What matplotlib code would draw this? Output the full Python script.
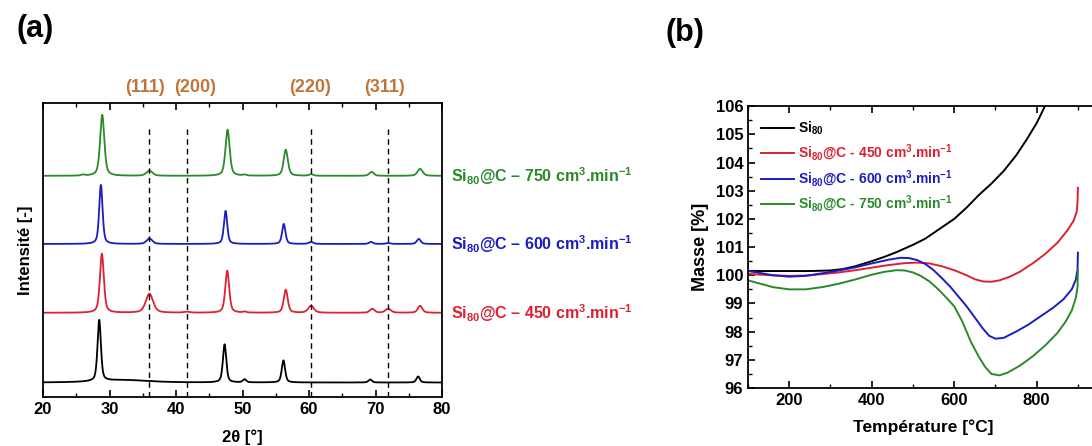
import numpy as np
import matplotlib
matplotlib.use("Agg")
import matplotlib.pyplot as plt
from matplotlib.ticker import MultipleLocator

plt.rcParams["font.family"] = ["Liberation Sans", "DejaVu Sans"]
plt.rcParams["font.weight"] = "bold"
plt.rcParams["axes.labelweight"] = "bold"
plt.rcParams["mathtext.fontset"] = "custom"
plt.rcParams["mathtext.rm"] = "Liberation Sans:bold"
plt.rcParams["mathtext.bf"] = "Liberation Sans:bold"
plt.rcParams["mathtext.it"] = "Liberation Sans:bold"

# -----------------------------
# (a) XRD data: peaks (position [deg], height [a.u.], fwhm [deg])
# -----------------------------
two_theta = np.linspace(20, 80, 3000)

xrd_offsets = {"Si80": 14.4, "450": 84.0, "600": 152.7, "750": 220.7}

peaks_si80 = [(28.45, 61, 0.6), (32.0, 2.5, 9.0), (47.3, 38, 0.6), (50.3, 3, 0.6),
              (56.15, 22, 0.6), (69.2, 3, 0.6), (76.4, 6, 0.6)]
peaks_450 = [(28.85, 59, 0.7), (36.0, 19, 1.3), (41.6, 1, 1.0), (47.7, 42, 0.7),
             (50.3, 1, 0.6), (56.5, 23, 0.7), (60.3, 7, 1.0), (69.5, 4, 0.8),
             (71.9, 4, 1.0), (76.7, 7, 0.8)]
peaks_600 = [(28.7, 59, 0.6), (36.0, 5.5, 1.0), (47.45, 33, 0.6), (56.2, 20, 0.6),
             (60.3, 2, 0.8), (69.3, 2, 0.7), (71.9, 1, 0.8), (76.5, 5, 0.7)]
peaks_750 = [(28.9, 61, 0.75), (26.0, 1, 0.6), (36.0, 5, 1.1), (47.75, 46, 0.75),
             (50.3, 1, 0.6), (56.5, 26, 0.75), (60.3, 1.5, 0.8), (69.4, 4, 0.8),
             (76.7, 7, 0.9)]

hkl_labels = ["(111)", "(200)", "(220)", "(311)"]
hkl_lines = [36.0, 41.7, 60.3, 71.9]
hkl_label_x = [35.3, 42.8, 60.2, 71.4]

# -----------------------------
# (b) TGA data
# -----------------------------
t_si80 = [100, 150, 200, 250, 300, 330, 360, 400, 430, 460, 500, 530, 560, 600, 630,
          660, 690, 720, 750, 775, 800, 820, 830]
m_si80 = [100.15, 100.15, 100.15, 100.15, 100.17, 100.22, 100.32, 100.5, 100.65, 100.82,
          101.08, 101.3, 101.6, 102.0, 102.4, 102.85, 103.25, 103.7, 104.25, 104.8,
          105.4, 106.0, 106.3]

t_450 = [100, 130, 160, 200, 240, 280, 320, 360, 400, 440, 480, 510, 540, 570, 600,
         630, 650, 670, 690, 710, 735, 760, 790, 820, 850, 875, 890, 897, 899, 900]
m_450 = [100.05, 100.02, 100.0, 99.98, 99.99, 100.04, 100.1, 100.18, 100.27, 100.36,
         100.43, 100.45, 100.42, 100.32, 100.18, 100.0, 99.86, 99.78, 99.77, 99.82,
         99.95, 100.13, 100.42, 100.75, 101.15, 101.6, 101.95, 102.25, 102.6, 103.1]

t_600 = [100, 130, 160, 200, 240, 280, 320, 360, 400, 440, 470, 490, 510, 530, 550,
         570, 590, 610, 630, 650, 670, 685, 700, 720, 750, 780, 810, 840, 865, 885,
         895, 899, 900]
m_600 = [100.15, 100.08, 100.0, 99.95, 99.98, 100.07, 100.17, 100.28, 100.42, 100.55,
         100.62, 100.61, 100.54, 100.4, 100.18, 99.9, 99.6, 99.25, 98.9, 98.5, 98.1,
         97.85, 97.75, 97.78, 98.0, 98.25, 98.55, 98.85, 99.15, 99.5, 99.85, 100.2, 100.8]

t_750 = [100, 130, 160, 200, 240, 280, 320, 360, 400, 430, 460, 480, 500, 520, 540,
         560, 580, 600, 620, 640, 660, 675, 690, 710, 730, 760, 790, 820, 850, 870,
         885, 895, 899, 900]
m_750 = [99.82, 99.7, 99.58, 99.5, 99.5, 99.58, 99.7, 99.85, 100.02, 100.12, 100.18,
         100.17, 100.1, 99.97, 99.78, 99.52, 99.22, 98.9, 98.35, 97.65, 97.1, 96.75,
         96.5, 96.45, 96.55, 96.8, 97.12, 97.5, 97.95, 98.35, 98.75, 99.2, 99.6, 100.2]

green = "#2a8a2a"
blue = "#1c1cc4"
red = "#dc2230"
orange = "#c0763a"


def profile(peaks):
    # pseudo-Voigt peaks (half Lorentzian, half Gaussian)
    y = np.zeros_like(two_theta)
    for pos, h, w in peaks:
        g = (w / 2) ** 2
        lor = g / ((two_theta - pos) ** 2 + g)
        gau = np.exp(-4 * np.log(2) * (two_theta - pos) ** 2 / w ** 2)
        y += h * (0.5 * lor + 0.5 * gau)
    return y


fig = plt.figure(figsize=(10.92, 4.46), dpi=100)

# -----------------------------
# Panel (a)
# -----------------------------
ax1 = fig.add_axes([0.0394, 0.110, 0.3654, 0.659])
ax1.plot(two_theta, profile(peaks_si80) + xrd_offsets["Si80"], color="black", lw=1.3)
ax1.plot(two_theta, profile(peaks_450) + xrd_offsets["450"], color=red, lw=1.3)
ax1.plot(two_theta, profile(peaks_600) + xrd_offsets["600"], color=blue, lw=1.3)
ax1.plot(two_theta, profile(peaks_750) + xrd_offsets["750"], color=green, lw=1.3)
for xl in hkl_lines:
    ax1.plot([xl, xl], [0, 268], ls=(0, (4, 3)), color="black", lw=1.0)
for lab, xl in zip(hkl_labels, hkl_label_x):
    ax1.text(xl, 1.052, lab, transform=ax1.get_xaxis_transform(), ha="center",
             va="center", color=orange, fontsize=13, fontweight="bold")

ax1.set_xlim(20, 80)
ax1.set_ylim(0, 293.4)
ax1.xaxis.set_major_locator(MultipleLocator(10))
ax1.xaxis.set_minor_locator(MultipleLocator(5))
ax1.tick_params(axis="x", which="both", direction="in", top=True, labelsize=12)
ax1.tick_params(axis="x", which="major", length=5, width=1.2)
ax1.tick_params(axis="x", which="minor", length=3, width=1.0)
ax1.set_yticks([])
for sp in ax1.spines.values():
    sp.set_linewidth(1.3)
ax1.set_xlabel("2θ [°]", fontsize=12, labelpad=9)
ax1.set_ylabel("Intensité [-]", fontsize=12, labelpad=7)

series_text = [("Si$_{80}$@C – 750 cm$^{3}$.min$^{-1}$", green, "750"),
               ("Si$_{80}$@C – 600 cm$^{3}$.min$^{-1}$", blue, "600"),
               ("Si$_{80}$@C – 450 cm$^{3}$.min$^{-1}$", red, "450")]
for txt, col, key in series_text:
    ax1.text(1.022, xrd_offsets[key], txt, transform=ax1.get_yaxis_transform(),
             ha="left", va="center", color=col, fontsize=11.5, fontweight="bold")

fig.text(0.015, 0.935, "(a)", fontsize=22, fontweight="bold", va="center")

# -----------------------------
# Panel (b)
# -----------------------------
ax2 = fig.add_axes([0.685, 0.130, 0.321, 0.632])
ax2.plot(t_si80, m_si80, color="black", lw=1.4, label="Si$_{80}$")
ax2.plot(t_450, m_450, color=red, lw=1.4, label="Si$_{80}$@C - 450 cm$^{3}$.min$^{-1}$")
ax2.plot(t_600, m_600, color=blue, lw=1.4, label="Si$_{80}$@C - 600 cm$^{3}$.min$^{-1}$")
ax2.plot(t_750, m_750, color=green, lw=1.4, label="Si$_{80}$@C - 750 cm$^{3}$.min$^{-1}$")

ax2.set_xlim(100, 950)
ax2.set_ylim(96, 106)
ax2.xaxis.set_major_locator(MultipleLocator(200))
ax2.xaxis.set_minor_locator(MultipleLocator(100))
ax2.yaxis.set_major_locator(MultipleLocator(1))
ax2.yaxis.set_minor_locator(MultipleLocator(0.5))
ax2.tick_params(which="both", direction="in", top=True, labelsize=12)
ax2.tick_params(which="major", length=5, width=1.2)
ax2.tick_params(which="minor", length=3, width=1.0)
for sp in ax2.spines.values():
    sp.set_linewidth(1.3)
ax2.set_xlabel("Température [°C]", fontsize=12.5, labelpad=8)
ax2.set_ylabel("Masse [%]", fontsize=13, labelpad=5)

leg = ax2.legend(loc="upper left", bbox_to_anchor=(0.0, 0.995), frameon=False,
                 fontsize=10, handlelength=2.4, handletextpad=0.3, labelspacing=0.38)
for line, text in zip(leg.get_lines(), leg.get_texts()):
    text.set_color(line.get_color())

fig.text(0.609, 0.925, "(b)", fontsize=22, fontweight="bold", va="center")

fig.savefig("out.png", dpi=100)
